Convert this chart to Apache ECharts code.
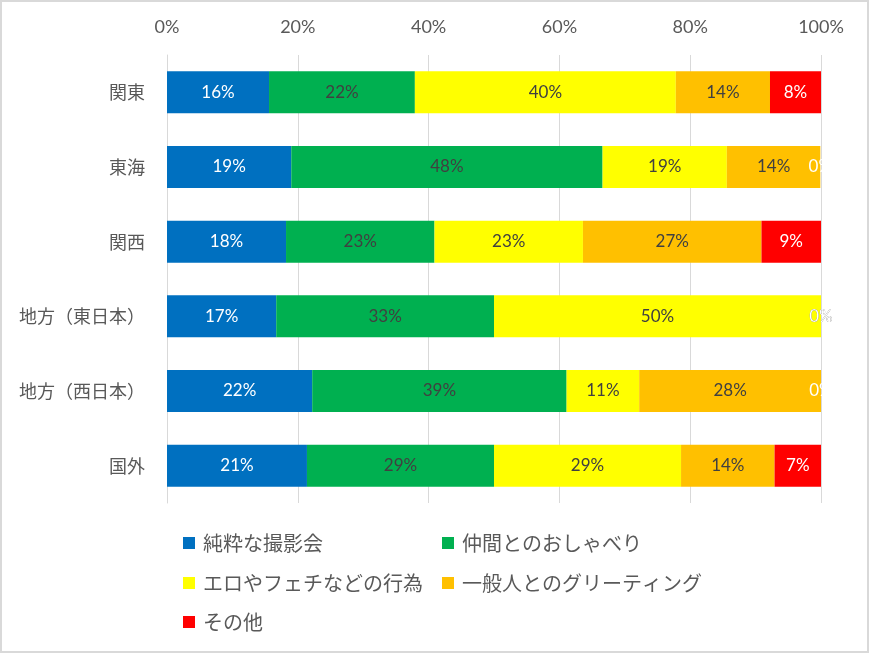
<!DOCTYPE html>
<html>
<head>
<meta charset="utf-8">
<script src="https://cdn.jsdelivr.net/npm/echarts@6/dist/echarts.min.js"></script>
<style>
    body { margin: 0; background: #fff; }
    #main { width: 869px; height: 653px; }
</style>
</head>
<body>
<div id="main"></div>
<script>
// regions, top to bottom
var regions = ['関東', '東海', '関西', '地方（東日本）', '地方（西日本）', '国外'];
var seriesNames = ['純粋な撮影会', '仲間とのおしゃべり', 'エロやフェチなどの行為', '一般人とのグリーティング', 'その他'];
var colors = ['#0070C0', '#00B050', '#FFFF00', '#FFC000', '#FF0000'];
var labelColors = ['#ffffff', '#404040', '#404040', '#404040', '#ffffff'];

// percent per region (same order as regions)
var pureShoot = [15.6, 19.0, 18.2, 16.7, 22.2, 21.4];
var chatting = [22.3, 47.6, 22.7, 33.3, 38.9, 28.6];
var eroFetish = [39.9, 19.0, 22.7, 50.0, 11.1, 28.6];
var greeting = [14.4, 14.3, 27.3, 0, 27.8, 14.3];
var others = [7.8, 0, 9.1, 0, 0, 7.1];
var values = [pureShoot, chatting, eroFetish, greeting, others];

var xTicks = [0, 20, 40, 60, 80, 100];

var font = 'Lato, "Noto Sans CJK JP", sans-serif';
var jpFont = '"Noto Sans CJK JP", sans-serif';

var myChart = echarts.init(document.getElementById('main'));

var series = seriesNames.map(function (name, i) {
    return {
        name: name,
        type: 'bar',
        stack: 'total',
        barWidth: 42,
        itemStyle: { color: colors[i] },
        label: {
            show: true,
            position: 'inside',
            color: labelColors[i],
            fontFamily: font,
            fontSize: 17,
            formatter: function (p) {
                return Math.round(p.value) + '%';
            }
        },
        data: values[i]
    };
});

// legend: two columns, three rows
var legendLeft = [183, 442, 183, 442, 183];
var legendTop = [533, 533, 573, 573, 612];

var legends = seriesNames.map(function (name, i) {
    return {
        data: [name],
        left: legendLeft[i],
        top: legendTop[i],
        padding: 0,
        icon: 'rect',
        itemWidth: 12,
        itemHeight: 12,
        textStyle: {
            color: '#595959',
            fontFamily: jpFont,
            fontSize: 20,
            padding: [0, 0, 0, 3]
        }
    };
});

var option = {
    animation: false,
    backgroundColor: '#fff',
    grid: { left: 167, right: 48, top: 55, bottom: 150 },
    legend: legends,
    xAxis: {
        type: 'value',
        position: 'top',
        min: 0,
        max: 100,
        interval: 20,
        axisLine: { show: false },
        axisTick: { show: false },
        splitLine: { lineStyle: { color: '#d9d9d9', width: 1 } },
        axisLabel: {
            color: '#595959',
            fontFamily: font,
            fontSize: 18,
            margin: 19,
            formatter: function (v) {
                return xTicks.indexOf(v) >= 0 ? v + '%' : '';
            }
        }
    },
    yAxis: {
        type: 'category',
        inverse: true,
        data: regions,
        axisLine: { show: true, lineStyle: { color: '#d9d9d9' } },
        axisTick: { show: false },
        axisLabel: {
            color: '#595959',
            fontFamily: jpFont,
            fontSize: 18,
            margin: 22
        }
    },
    graphic: [{
        type: 'rect',
        shape: { x: 1, y: 1, width: 867, height: 651 },
        style: { fill: null, stroke: '#d9d9d9', lineWidth: 2 },
        silent: true,
        z: 100
    }],
    series: series
};

option && myChart.setOption(option);
</script>
</body>
</html>
